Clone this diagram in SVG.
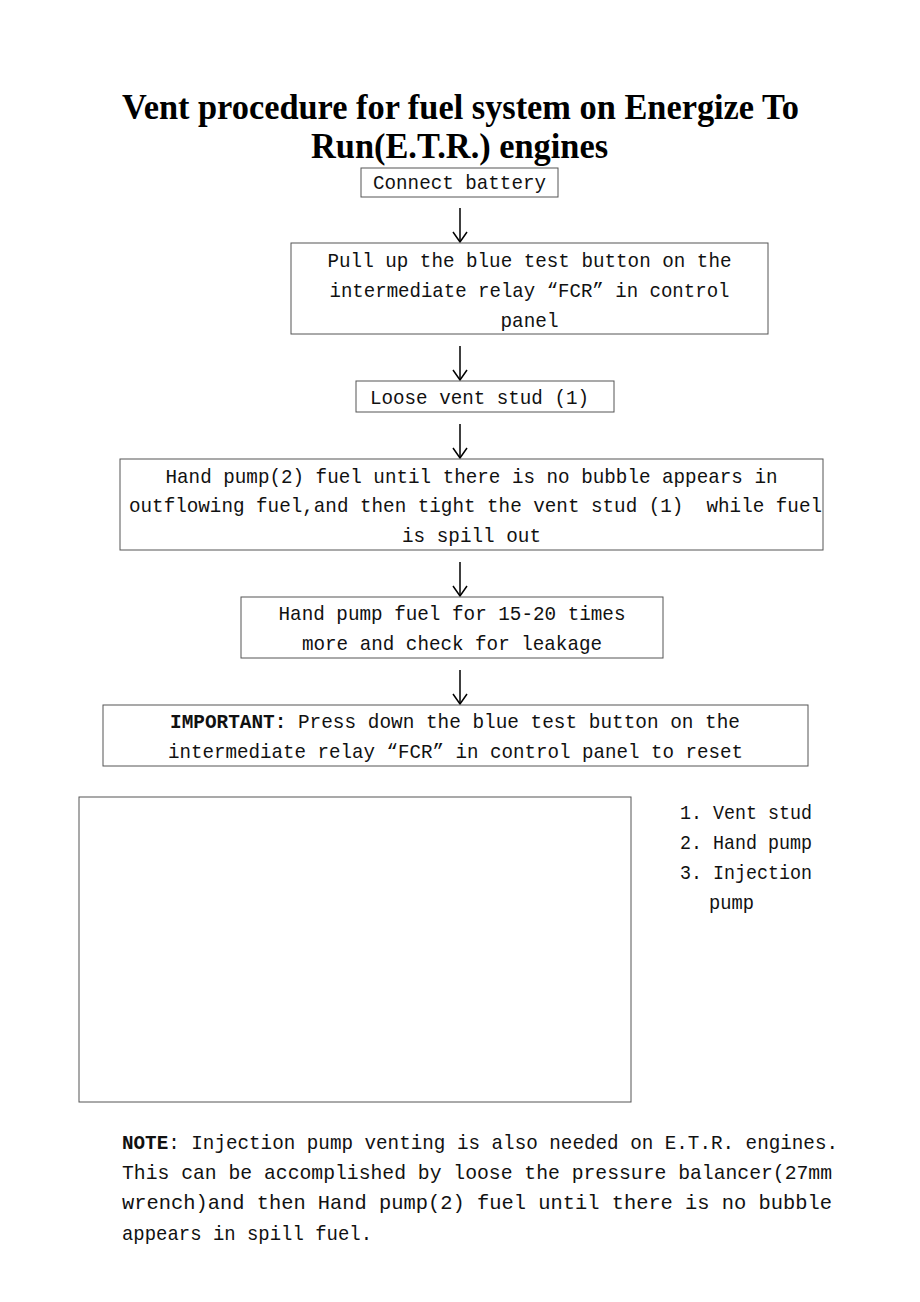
<svg xmlns="http://www.w3.org/2000/svg" width="920" height="1302" viewBox="0 0 920 1302">
<style>
.bg{fill:#fff}
.box{fill:#fff;stroke:#555;stroke-width:1}
.t{font-family:"Liberation Mono",monospace;font-size:21px;fill:#111}
.c{text-anchor:middle}
.title{font-family:"Liberation Serif","Times New Roman",serif;font-weight:bold;font-size:35px;fill:#000;text-anchor:middle}
.b{font-weight:bold}
.arrow{stroke:#000;stroke-width:1.5;fill:none}
</style>
<defs>
<marker id="ah" viewBox="0 0 12 16" refX="11" refY="8" markerWidth="12" markerHeight="16" markerUnits="userSpaceOnUse" orient="auto">
<path d="M1,1 L11,8 L1,15" fill="none" stroke="#000" stroke-width="1.5"/>
</marker>
</defs>
<rect class="bg" x="0" y="0" width="920" height="1302"/>
<g id="title">
<text class="title" x="460.5" y="119" textLength="677" lengthAdjust="spacingAndGlyphs">Vent procedure for fuel system on Energize To</text>
<text class="title" x="459.5" y="158" textLength="297" lengthAdjust="spacingAndGlyphs">Run(E.T.R.) engines</text>
</g>
<g id="connectors">
<line class="arrow" x1="460" y1="208" x2="460" y2="242" marker-end="url(#ah)"/>
<line class="arrow" x1="460" y1="346" x2="460" y2="380" marker-end="url(#ah)"/>
<line class="arrow" x1="460" y1="424" x2="460" y2="458" marker-end="url(#ah)"/>
<line class="arrow" x1="460" y1="562" x2="460" y2="596" marker-end="url(#ah)"/>
<line class="arrow" x1="460" y1="670" x2="460" y2="704" marker-end="url(#ah)"/>
</g>
<g id="n1">
<rect class="box" x="361" y="168" width="197" height="29"/>
<text class="t c" x="459.5" y="189" textLength="173" lengthAdjust="spacingAndGlyphs">Connect battery</text>
</g>
<g id="n2">
<rect class="box" x="291" y="243" width="477" height="91"/>
<text class="t c" x="529.5" y="267" textLength="404" lengthAdjust="spacingAndGlyphs">Pull up the blue test button on the</text>
<text class="t c" x="529.5" y="297" textLength="400" lengthAdjust="spacingAndGlyphs">intermediate relay “FCR” in control</text>
<text class="t c" x="529.5" y="327" textLength="58" lengthAdjust="spacingAndGlyphs">panel</text>
</g>
<g id="n3">
<rect class="box" x="356" y="381" width="258" height="31"/>
<text class="t" x="370" y="404" textLength="219" lengthAdjust="spacingAndGlyphs">Loose vent stud (1)</text>
</g>
<g id="n4">
<rect class="box" x="120" y="459" width="703" height="91"/>
<text class="t c" x="471.5" y="483" textLength="612" lengthAdjust="spacingAndGlyphs">Hand pump(2) fuel until there is no bubble appears in</text>
<text class="t c" x="475.5" y="512" textLength="693" lengthAdjust="spacingAndGlyphs" xml:space="preserve">outflowing fuel,and then tight the vent stud (1)  while fuel</text>
<text class="t c" x="471.5" y="542" textLength="139" lengthAdjust="spacingAndGlyphs">is spill out</text>
</g>
<g id="n5">
<rect class="box" x="241" y="597" width="422" height="61"/>
<text class="t c" x="452" y="620" textLength="347" lengthAdjust="spacingAndGlyphs">Hand pump fuel for 15-20 times</text>
<text class="t c" x="452" y="650" textLength="300" lengthAdjust="spacingAndGlyphs">more and check for leakage</text>
</g>
<g id="n6">
<rect class="box" x="103" y="705" width="705" height="61"/>
<text class="t c" x="455" y="728" textLength="570" lengthAdjust="spacingAndGlyphs"><tspan class="b">IMPORTANT:</tspan> Press down the blue test button on the</text>
<text class="t c" x="455.5" y="758" textLength="575" lengthAdjust="spacingAndGlyphs">intermediate relay “FCR” in control panel to reset</text>
</g>
<g id="figure">
<rect class="box" x="79" y="797" width="552" height="305"/>
</g>
<g id="legend">
<text class="t" x="680" y="819" textLength="132" lengthAdjust="spacingAndGlyphs">1. Vent stud</text>
<text class="t" x="680" y="849" textLength="132" lengthAdjust="spacingAndGlyphs">2. Hand pump</text>
<text class="t" x="680" y="879" textLength="132" lengthAdjust="spacingAndGlyphs">3. Injection</text>
<text class="t" x="709" y="909" textLength="45" lengthAdjust="spacingAndGlyphs">pump</text>
</g>
<g id="note">
<text class="t" x="122" y="1149" textLength="716" lengthAdjust="spacingAndGlyphs"><tspan class="b">NOTE</tspan>: Injection pump venting is also needed on E.T.R. engines.</text>
<text class="t" x="122" y="1179" textLength="710" lengthAdjust="spacingAndGlyphs">This can be accomplished by loose the pressure balancer(27mm</text>
<text class="t" x="122" y="1209" textLength="710" lengthAdjust="spacingAndGlyphs">wrench)and then Hand pump(2) fuel until there is no bubble</text>
<text class="t" x="122" y="1240" textLength="250" lengthAdjust="spacingAndGlyphs">appears in spill fuel.</text>
</g>
</svg>
